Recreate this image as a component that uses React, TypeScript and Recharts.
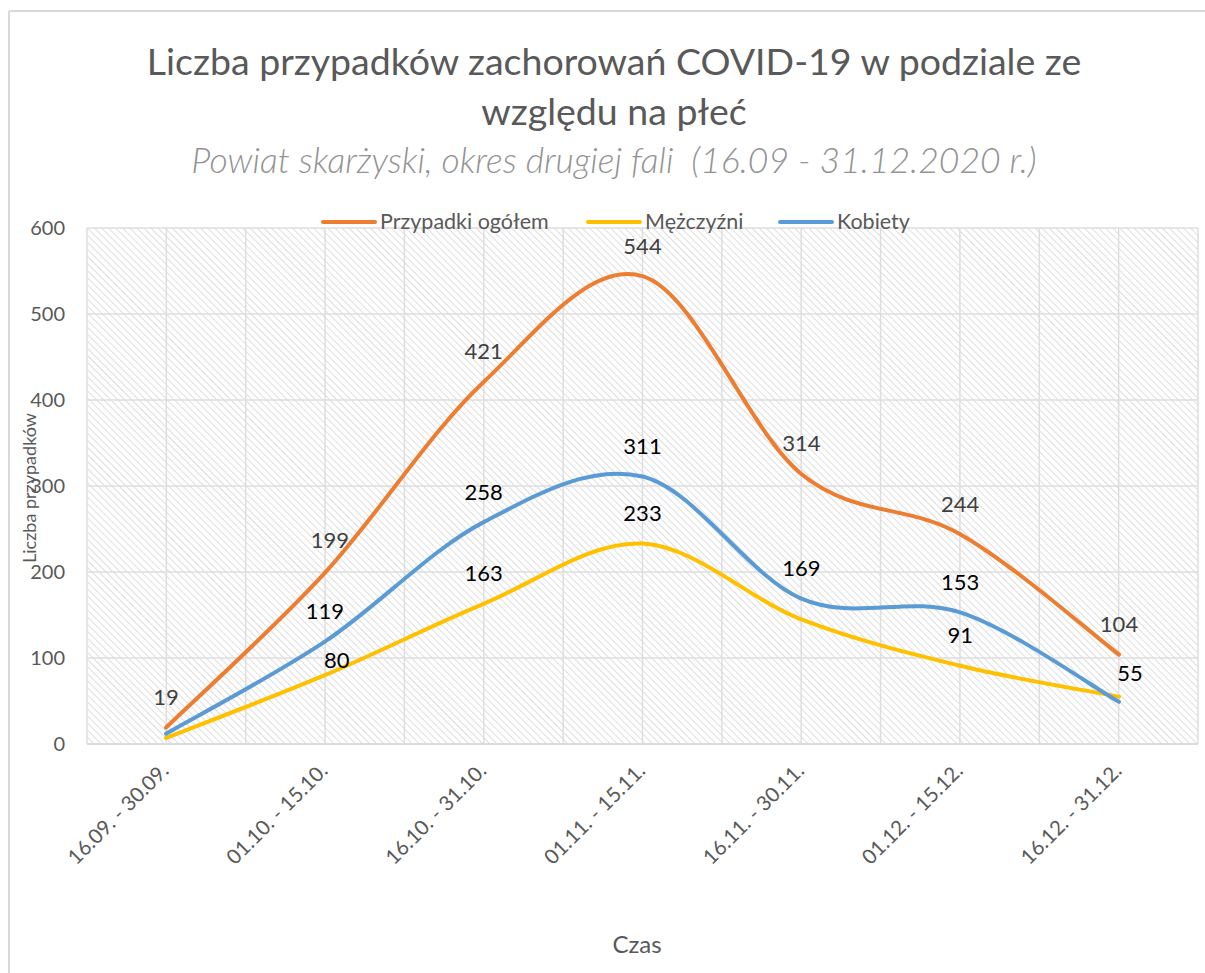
import { LineChart, Line, XAxis, YAxis, CartesianGrid, LabelList } from 'recharts';

const periods = [
  '16.09. - 30.09.',
  '01.10. - 15.10.',
  '16.10. - 31.10.',
  '01.11. - 15.11.',
  '16.11. - 30.11.',
  '01.12. - 15.12.',
  '16.12. - 31.12.',
];
const totalCases = [19, 199, 421, 544, 314, 244, 104];
const menCases = [7, 80, 163, 233, 145, 91, 55];
const womenCases = [12, 119, 258, 311, 169, 153, 49];
const yTicks = [0, 100, 200, 300, 400, 500, 600];

// which data labels Excel shows for each series
const menLabelShown = [false, true, true, true, false, true, true];
const womenLabelShown = [false, true, true, true, true, true, false];

const seriesNames = ['Przypadki ogółem', 'Mężczyźni', 'Kobiety'];
const seriesColors = ['#ED7D31', '#FFC000', '#5B9BD5'];

const data = periods.map((p, i) => ({
  period: p,
  total: totalCases[i],
  men: menCases[i],
  women: womenCases[i],
}));

const FONT = 'Lato, "Open Sans", sans-serif';

// Excel style smoothing (Catmull-Rom converted to bezier)
function excelCurve(context: any) {
  let pts: number[][] = [];
  return {
    areaStart() {},
    areaEnd() {},
    lineStart() {
      pts = [];
    },
    point(x: number, y: number) {
      pts.push([+x, +y]);
    },
    lineEnd() {
      if (!pts.length) return;
      context.moveTo(pts[0][0], pts[0][1]);
      const t = 1 / 6;
      for (let i = 0; i < pts.length - 1; i++) {
        const p0 = pts[Math.max(0, i - 1)];
        const p1 = pts[i];
        const p2 = pts[i + 1];
        const p3 = pts[Math.min(pts.length - 1, i + 2)];
        context.bezierCurveTo(
          p1[0] + (p2[0] - p0[0]) * t,
          p1[1] + (p2[1] - p0[1]) * t,
          p2[0] - (p3[0] - p1[0]) * t,
          p2[1] - (p3[1] - p1[1]) * t,
          p2[0],
          p2[1]
        );
      }
    },
  };
}

const labelNudge: Record<string, [number, number]> = {
  'men-1': [12, -16],
  'men-6': [11, -24],
  'total-1': [5, -33],
};

function makeLabel(series: string, shown: boolean[] | null, color: string) {
  return (props: any) => {
    const { x, y, value, index } = props;
    if (shown && !shown[index]) return null;
    const [dx, dy] = labelNudge[`${series}-${index}`] || [0, -31];
    return (
      <text
        x={x + dx}
        y={y + dy}
        textAnchor="middle"
        dominantBaseline="central"
        fontFamily={FONT}
        fontSize={22}
        fill={color}
      >
        {value}
      </text>
    );
  };
}

function PeriodTick(props: any) {
  const { x, y, payload } = props;
  return (
    <text
      x={x + 4}
      y={y + 20}
      transform={`rotate(-45, ${x + 4}, ${y + 20})`}
      textAnchor="end"
      fontFamily={FONT}
      fontSize={20.5}
      fill="#595959"
    >
      {payload.value}
    </text>
  );
}

const legendX = [323, 588, 780];

export default function App() {
  return (
    <div style={{ position: 'absolute', left: 0, top: 0, width: 1205, height: 973, background: 'white' }}>
      <svg width={1205} height={973} style={{ position: 'absolute', left: 0, top: 0 }}>
        <defs>
          <pattern
            id="hatch"
            width="5"
            height="5"
            patternUnits="userSpaceOnUse"
            patternTransform="rotate(-45)"
          >
            <rect width="5" height="5" fill="#ffffff" />
            <line x1="0" y1="0" x2="0" y2="5" stroke="#d9d9d9" strokeWidth="1.7" />
          </pattern>
        </defs>
        <line x1={9} y1={11} x2={1205} y2={11} stroke="#d9d9d9" strokeWidth={2} />
        <line x1={9} y1={11} x2={9} y2={973} stroke="#d9d9d9" strokeWidth={2} />
        <text x={614} y={75} textAnchor="middle" fontFamily={FONT} fontSize={37.5} fill="#595959">
          Liczba przypadków zachorowań COVID-19 w podziale ze
        </text>
        <text x={614} y={125} textAnchor="middle" fontFamily={FONT} fontSize={37.5} fill="#595959">
          względu na płeć
        </text>
        <text
          x={614}
          y={173}
          textAnchor="middle"
          fontFamily={FONT}
          fontStyle="italic"
          fontWeight={300}
          fontSize={35.5}
          fill="#939393"
          style={{ whiteSpace: 'pre' }}
        >
          {'Powiat skarżyski, okres drugiej fali  (16.09 - 31.12.2020 r.)'}
        </text>
        <text
          x={36}
          y={488}
          transform="rotate(-90, 36, 488)"
          textAnchor="middle"
          fontFamily={FONT}
          fontSize={18}
          fill="#595959"
        >
          Liczba przypadków
        </text>
        <text x={637} y={953} textAnchor="middle" fontFamily={FONT} fontSize={24} fill="#595959">
          Czas
        </text>
      </svg>
      <div style={{ position: 'absolute', left: 0, top: 0 }}>
        <LineChart
          width={1205}
          height={973}
          data={data}
          margin={{ top: 228, right: 7, bottom: 79, left: 27 }}
        >
          <CartesianGrid
            stroke="#dedede"
            strokeWidth={1.5}
            fill="url(#hatch)"
            fillOpacity={1}
            verticalCoordinatesGenerator={({ offset }: any) =>
              Array.from({ length: periods.length * 2 + 1 }, (_, i) => offset.left + (i * offset.width) / (periods.length * 2))
            }
          />
          <XAxis
            dataKey="period"
            height={150}
            padding={{ left: 79, right: 79 }}
            axisLine={{ stroke: '#d9d9d9', strokeWidth: 1.5 }}
            tickLine={false}
            interval={0}
            tick={<PeriodTick />}
          />
          <YAxis
            width={60}
            domain={[0, 600]}
            ticks={yTicks}
            axisLine={false}
            tickLine={false}
            tickSize={0}
            tickMargin={22}
            tick={{ fontFamily: FONT, fontSize: 20, fill: '#595959' }}
          />
          <Line
            dataKey="total"
            type={excelCurve as any}
            stroke={seriesColors[0]}
            strokeWidth={4}
            strokeLinecap="round"
            dot={false}
            isAnimationActive={false}
          >
            <LabelList dataKey="total" content={makeLabel('total', null, '#404040')} />
          </Line>
          <Line
            dataKey="men"
            type={excelCurve as any}
            stroke={seriesColors[1]}
            strokeWidth={4}
            strokeLinecap="round"
            dot={false}
            isAnimationActive={false}
          >
            <LabelList dataKey="men" content={makeLabel('men', menLabelShown, '#000000')} />
          </Line>
          <Line
            dataKey="women"
            type={excelCurve as any}
            stroke={seriesColors[2]}
            strokeWidth={4}
            strokeLinecap="round"
            dot={false}
            isAnimationActive={false}
          >
            <LabelList dataKey="women" content={makeLabel('women', womenLabelShown, '#000000')} />
          </Line>
        </LineChart>
      </div>
      <svg
        width={1205}
        height={260}
        style={{ position: 'absolute', left: 0, top: 0, pointerEvents: 'none' }}
      >
        {seriesNames.map((name, i) => (
          <g key={name}>
            <line
              x1={legendX[i]}
              y1={222}
              x2={legendX[i] + 52}
              y2={222}
              stroke={seriesColors[i]}
              strokeWidth={4}
              strokeLinecap="round"
            />
            <text x={legendX[i] + 57} y={229} fontFamily={FONT} fontSize={21.5} fill="#595959">
              {name}
            </text>
          </g>
        ))}
      </svg>
    </div>
  );
}
